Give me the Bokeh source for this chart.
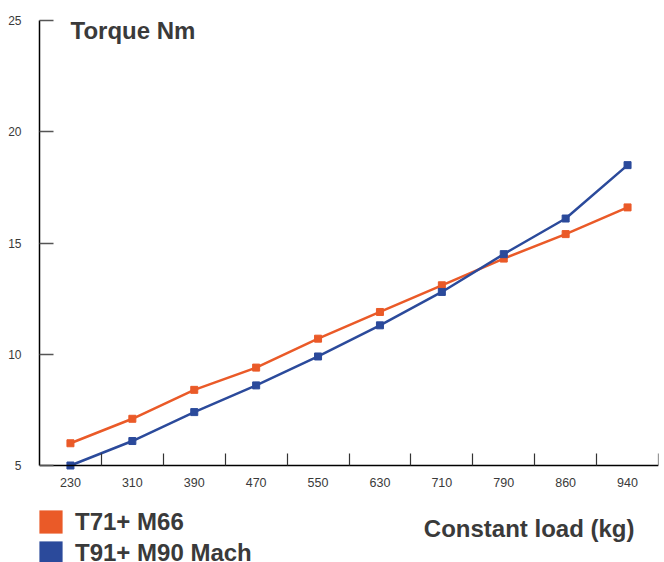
from bokeh.plotting import figure
from bokeh.models import Range1d, FixedTicker, Label, Legend, LegendItem, ColumnDataSource
from bokeh.embed import file_html
from bokeh.resources import INLINE

loads = ["230", "310", "390", "470", "550", "630", "710", "790", "860", "940"]
t71_m66 = [6.0, 7.1, 8.4, 9.4, 10.7, 11.9, 13.1, 14.3, 15.4, 16.6]
t91_m90 = [5.0, 6.1, 7.4, 8.6, 9.9, 11.3, 12.8, 14.5, 16.1, 18.5]
y_ticks = [5, 10, 15, 20, 25]

ORANGE = "#EA5A28"
BLUE = "#2B4A9B"
TXT = "#3a3a3a"
FONT = "Liberation Sans"

W, H = 664, 562
LEFT, TOP, RIGHT = 39, 20, 6
Y_AXIS_PX = 465          # pixel row of the x axis (value 5)
y_lo, y_hi = y_ticks[0], y_ticks[-1]
px_per_unit = (Y_AXIS_PX - TOP) / (y_hi - y_lo)
y_start = y_lo - (H - Y_AXIS_PX) / px_per_unit

xs = [i + 0.5 for i in range(len(loads))]

p = figure(width=W, height=H, output_backend="svg", toolbar_location=None,
           x_range=Range1d(0, len(loads)), y_range=Range1d(y_start, y_hi),
           min_border_left=LEFT, min_border_right=RIGHT, min_border_top=TOP,
           min_border_bottom=0)
p.outline_line_color = None
p.grid.visible = False
p.background_fill_color = "white"
p.border_fill_color = "white"

src = ColumnDataSource(dict(x=xs, a=t71_m66, b=t91_m90))
p.line("x", "a", source=src, line_color=ORANGE, line_width=2.5)
p.scatter("x", "a", source=src, marker="square", size=7, fill_color=ORANGE, line_color=ORANGE)
p.line("x", "b", source=src, line_color=BLUE, line_width=2.5)
p.scatter("x", "b", source=src, marker="square", size=7, fill_color=BLUE, line_color=BLUE)

# x axis, pinned at y = 5
xa = p.xaxis[0]
xa.fixed_location = y_lo
xa.ticker = FixedTicker(ticks=xs, minor_ticks=[i + 1 for i in range(len(loads))])
xa.major_label_overrides = {x: l for x, l in zip(xs, loads)}
xa.major_tick_line_color = None
xa.minor_tick_in = 12
xa.minor_tick_out = 0
xa.minor_tick_line_color = "#333333"
xa.minor_tick_line_width = 1.2
xa.axis_line_color = "black"
xa.axis_line_width = 1.5
xa.major_label_text_font = FONT
xa.major_label_text_font_size = "12.5px"
xa.major_label_text_color = TXT
xa.major_label_standoff = 6

# y axis
ya = p.yaxis[0]
ya.bounds = (y_lo, y_hi)
ya.ticker = FixedTicker(ticks=y_ticks)
ya.minor_tick_line_color = None
ya.major_tick_in = 14
ya.major_tick_out = 0
ya.major_tick_line_color = "#555555"
ya.major_tick_line_width = 1.5
ya.axis_line_color = "black"
ya.axis_line_width = 1.5
ya.major_label_text_font = FONT
ya.major_label_text_font_size = "12px"
ya.major_label_text_color = TXT
ya.major_label_standoff = 18

# titles (screen units relative to the frame's bottom-left)
p.add_layout(Label(x=70 - LEFT, y=H - 29.5, x_units="screen", y_units="screen", text="Torque Nm",
                   text_font=FONT, text_font_size="24px", text_font_style="bold",
                   text_color=TXT, text_baseline="alphabetic"))
p.add_layout(Label(x=634 - LEFT, y=H - 528, x_units="screen", y_units="screen",
                   text="Constant load (kg)",
                   text_font=FONT, text_font_size="24px", text_font_style="bold",
                   text_color=TXT, text_baseline="alphabetic", text_align="right"))

# legend swatches (renderers with no drawable geometry, only used for the legend)
nan = float("nan")
r1 = p.quad(left=[nan], right=[nan], top=[nan], bottom=[nan], fill_color=ORANGE, line_color=None)
r2 = p.quad(left=[nan], right=[nan], top=[nan], bottom=[nan], fill_color=BLUE, line_color=None)
leg = Legend(items=[LegendItem(label="T71+ M66", renderers=[r1], index=0),
                    LegendItem(label="T91+ M90 Mach", renderers=[r2], index=0)],
             location=(-3, -5), glyph_width=29, glyph_height=29, label_height=29,
             spacing=2, padding=0, margin=0, label_standoff=10,
             label_text_font=FONT, label_text_font_size="24px", label_text_font_style="bold",
             label_text_color=TXT, border_line_color=None, background_fill_alpha=0)
p.add_layout(leg)

open("out.html", "w").write(file_html(p, INLINE))
